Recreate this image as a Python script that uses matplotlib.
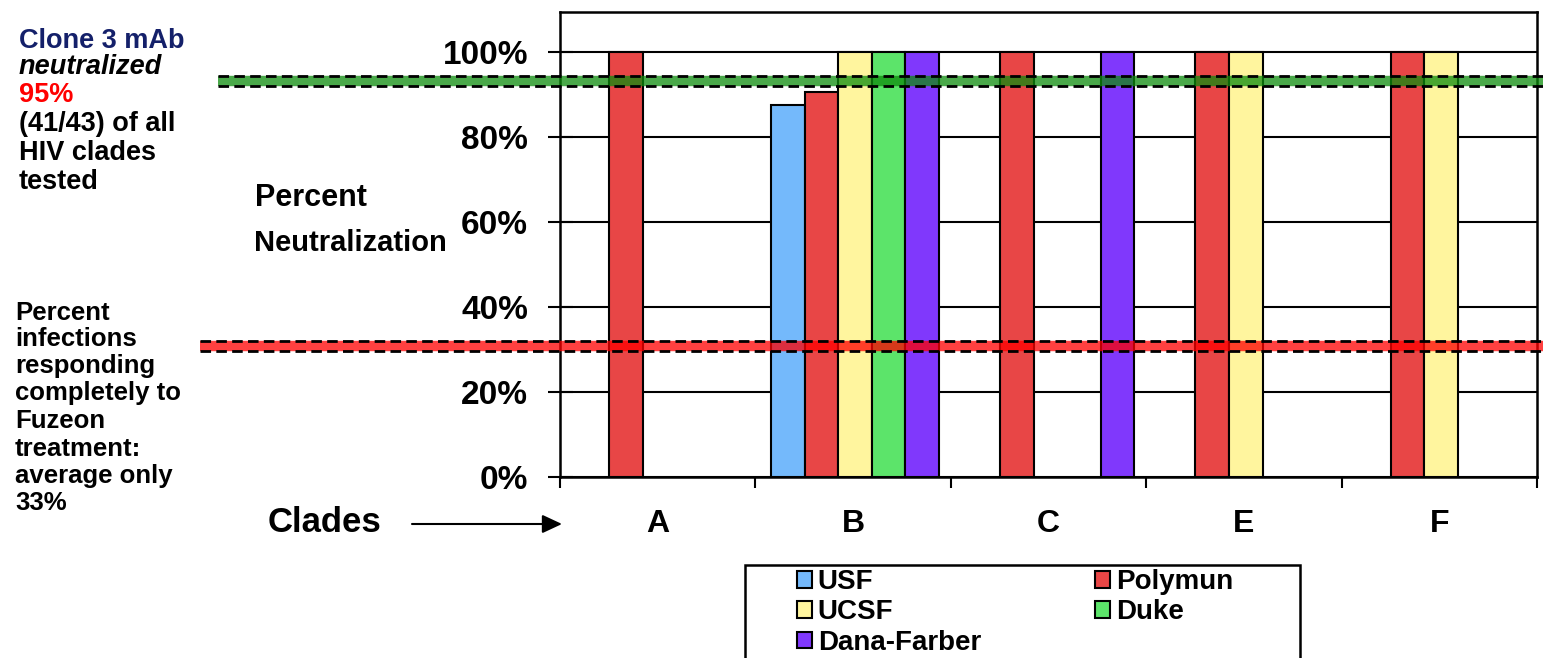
import numpy as np
import matplotlib
matplotlib.use("Agg")
import matplotlib.pyplot as plt
from matplotlib.patches import Rectangle, Patch
from matplotlib.transforms import blended_transform_factory

plt.rcParams['font.family'] = ['Liberation Sans', 'DejaVu Sans']
plt.rcParams['font.weight'] = 'bold'

# ---------------- data ----------------
clades = ['A', 'B', 'C', 'E', 'F']
series_names = ['USF', 'Polymun', 'UCSF', 'Duke', 'Dana-Farber']
usf = [np.nan, 87.5, np.nan, np.nan, np.nan]
polymun = [100, 90.5, 100, 100, 100]
ucsf = [np.nan, 100, np.nan, 100, 100]
duke = [np.nan, 100, np.nan, np.nan, np.nan]
dana_farber = [np.nan, 100, 100, np.nan, np.nan]
series_values = [usf, polymun, ucsf, duke, dana_farber]
colors = ['#74b9fb', '#e84646', '#fff59e', '#5ce46a', '#8038fc']

yticks = [0, 20, 40, 60, 80, 100]
ytick_labels = ['0%', '20%', '40%', '60%', '80%', '100%']

clone3_level = 93.2      # green reference band
fuzeon_level = 30.9      # red reference band

W, H = 1543, 658
fig = plt.figure(figsize=(W / 100, H / 100), dpi=100)
ax = fig.add_axes([560 / W, (H - 477) / H, (1537 - 560) / W, (477 - 12) / H])

n = len(series_names)
bw = 0.172
x = np.arange(len(clades)) + 0.5
for i, (vals, c) in enumerate(zip(series_values, colors)):
    ax.bar(x + (i - (n - 1) / 2) * bw + 0.01, vals, width=bw, color=c,
           edgecolor='black', linewidth=1.5, zorder=3)

ax.set_xlim(0, len(clades))
ax.set_ylim(0, 109.4)
ax.set_yticks(yticks)
ax.set_yticklabels(ytick_labels, fontsize=24, fontweight='bold')
ax.yaxis.grid(True, color='black', linewidth=1.5, zorder=1)
ax.set_axisbelow(True)
ax.tick_params(axis='y', direction='inout', length=18, width=1.5, pad=14)

ax.set_xticks(np.arange(len(clades) + 1))
ax.set_xticklabels([])
ax.set_xticks(x, minor=True)
ax.set_xticklabels(clades, minor=True, fontsize=23, fontweight='bold')
ax.tick_params(axis='x', which='major', direction='out', length=8, width=1.5)
ax.tick_params(axis='x', which='minor', length=0, pad=23)

for s in ax.spines.values():
    s.set_linewidth(1.8)
    s.set_color('black')

# reference bands spanning beyond the axes
tr = blended_transform_factory(fig.transFigure, ax.transData)
for level, x0, col in [(clone3_level, 218 / W, (0.05, 0.55, 0.05)),
                       (fuzeon_level, 200 / W, (1, 0, 0))]:
    ax.plot([x0, 1], [level, level], transform=tr, color=col, alpha=0.75,
            linewidth=7.5, solid_capstyle='butt', clip_on=False, zorder=5)
    for d in (-1.15, 1.15):
        ax.plot([x0, 1], [level + d, level + d], transform=tr, color='black',
                linewidth=2.0, dashes=(3.8, 1.9), clip_on=False, zorder=6)

# y label
fig.text(255 / W, 1 - 198 / H, 'Percent', fontsize=22, fontweight='bold',
         ha='left', va='center')
fig.text(254 / W, 1 - 243 / H, 'Neutralization', fontsize=21, fontweight='bold',
         ha='left', va='center')

# Clades label + arrow
fig.text(268 / W, 1 - 522 / H, 'Clades', fontsize=25, fontweight='bold',
         ha='left', va='center')
ax.annotate('', xy=(562 / W, 1 - 524 / H), xytext=(412 / W, 1 - 524 / H),
            xycoords='figure fraction', textcoords='figure fraction',
            arrowprops=dict(arrowstyle='-|>,head_length=0.6,head_width=0.28',
                            mutation_scale=20, color='black', lw=1.5,
                            shrinkA=0, shrinkB=0))

# left annotation block 1
lines1 = [('Clone 3 mAb', '#14206a', 'normal'),
          ('neutralized', 'black', 'italic'),
          ('95%', '#ff0000', 'normal'),
          ('(41/43) of all', 'black', 'normal'),
          ('HIV clades', 'black', 'normal'),
          ('tested', 'black', 'normal')]
ys1 = [41, 67, 95, 124, 153, 182]
for (t, c, st), yy in zip(lines1, ys1):
    fig.text(19 / W, 1 - yy / H, t, color=c, style=st, fontsize=19.5,
             fontweight='bold', ha='left', va='center')

lines2 = ['Percent', 'infections', 'responding', 'completely to', 'Fuzeon',
          'treatment:', 'average only', '33%']
ys2 = [313, 339, 366, 393, 421, 449, 476, 503]
for t, yy in zip(lines2, ys2):
    fig.text(15 / W, 1 - yy / H, t, fontsize=18.5, fontweight='bold',
             ha='left', va='center')

# legend (frame drawn separately, runs off the bottom edge)
fig.patches.append(Rectangle((745 / W, -0.2), (1300 - 745) / W, 0.2 + (H - 565) / H,
                             transform=fig.transFigure, fill=False,
                             edgecolor='black', linewidth=1.8))
order = [0, 2, 4, 1, 3]
handles = [Patch(facecolor=colors[i], edgecolor='black', linewidth=1.5) for i in order]
labels = [series_names[i] for i in order]
fig.legend(handles, labels, loc='upper left',
           bbox_to_anchor=(797 / W, 1 - 569 / H), ncol=2, frameon=False,
           prop={'weight': 'bold', 'size': 20},
           handlelength=0.55, handleheight=0.55, handletextpad=0.2,
           columnspacing=4.1, labelspacing=0.16, borderpad=0, borderaxespad=0)

fig.savefig('out.png', dpi=100)
